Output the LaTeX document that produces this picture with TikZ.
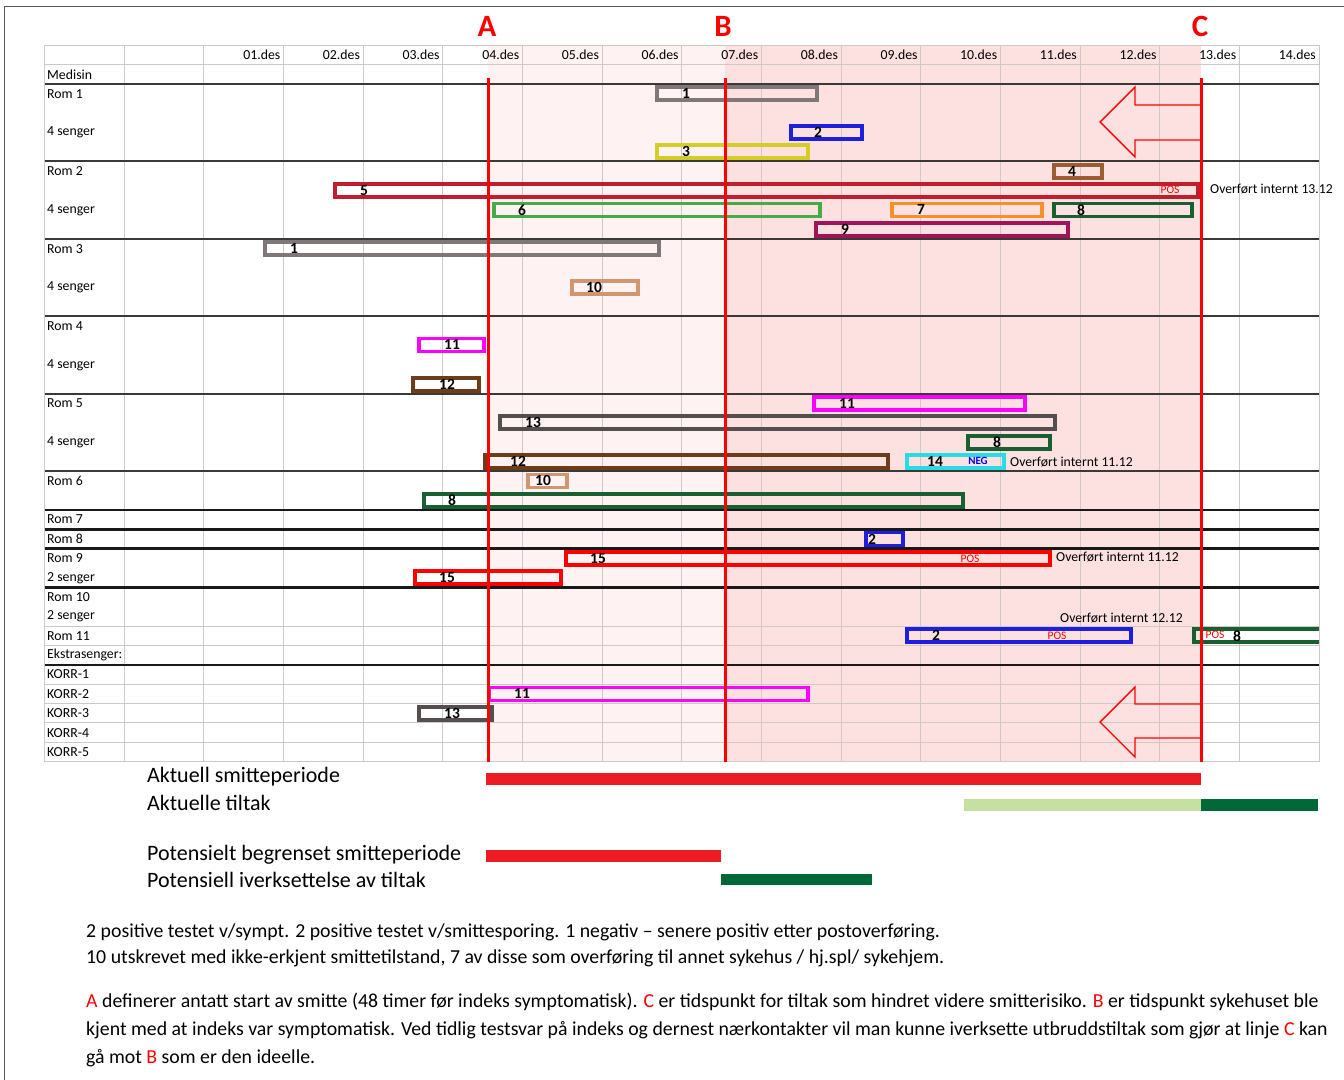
\documentclass[tikz,border=0pt]{standalone}
\usepackage{fontspec}
\setmainfont{Carlito}
\definecolor{cgray}{RGB}{128,120,120}
\definecolor{cblue}{RGB}{30,30,220}
\definecolor{cyel}{RGB}{212,205,40}
\definecolor{cbrown}{RGB}{155,92,50}
\definecolor{cdred}{RGB}{190,30,45}
\definecolor{cgreen}{RGB}{70,170,70}
\definecolor{corange}{RGB}{245,145,40}
\definecolor{cdkg}{RGB}{25,95,50}
\definecolor{cpurple}{RGB}{160,20,90}
\definecolor{ctan}{RGB}{210,150,110}
\definecolor{cmag}{RGB}{255,0,255}
\definecolor{cbrownb}{RGB}{110,60,25}
\definecolor{cdgray}{RGB}{85,78,78}
\definecolor{ccyan}{RGB}{40,220,230}
\definecolor{cred}{RGB}{255,0,0}
\definecolor{pinka}{RGB}{254,242,242}
\definecolor{pinkb}{RGB}{253,225,225}
\definecolor{gridc}{RGB}{208,200,200}
\definecolor{lred}{RGB}{237,28,36}
\definecolor{lgreen}{RGB}{197,224,160}
\definecolor{dgreen}{RGB}{0,104,55}
\tikzset{
  gridline/.style={draw=gridc, line width=1.1pt},
  sepline/.style={draw=gray!45!black, line width=2pt},
  sepblack/.style={draw=black!90, line width=2.4pt},
  rowlab/.style={anchor=west, inner sep=0pt, font=\fontsize{13.8}{13.8}\selectfont},
  datelab/.style={anchor=east, inner sep=0pt, font=\fontsize{13.8}{13.8}\selectfont},
  pbox/.style={draw=#1, line width=3.7pt, inner sep=0pt, minimum height=13pt, anchor=west},
  num/.style={inner sep=0pt, font=\fontsize{15.5}{15.5}\selectfont\bfseries},
  postag/.style={inner sep=0pt, text=red, font=\fontsize{11.5}{11.5}\selectfont},
  negtag/.style={inner sep=0pt, text=blue, font=\fontsize{11}{11}\selectfont\bfseries},
  notetext/.style={anchor=west, inner sep=0pt, font=\fontsize{13.7}{13.7}\selectfont},
  abcline/.style={draw=red, line width=3pt},
  abclab/.style={inner sep=0pt, text=red, font=\fontsize{31}{31}\selectfont\bfseries},
  arrowshape/.style={draw=red, line width=1.4pt, line join=miter},
  legtext/.style={anchor=west, inner sep=0pt, font=\fontsize{22}{22}\selectfont},
  bottext/.style={anchor=west, inner sep=0pt, font=\fontsize{19.8}{19.8}\selectfont},
}
\newcommand\pbar[7]{%
  \node[pbox=#2, minimum width={(#4-#3)*1pt}] (#1) at (#3,#5) {};
  \node[num] (#1n) at (#6,#5) {#7};}
\begin{document}
\begin{tikzpicture}[x=1pt,y=-1pt]
\useasboundingbox (0,0) rectangle (1344,1079);
\fill[white] (0,0) rectangle (1344,1079);
% frame
\draw[gray!70!black, line width=1pt] (4,1090) -- (4,6) -- (1350,6);
% pink shading
\fill[pinka] (488,45.3) rectangle (725,761.7);
\fill[pinkb] (725,45.3) rectangle (1201,761.7);
% vertical grid
\foreach \k in {0,...,16} {
  \draw[gridline] ({44.5+79.66*\k},45.3) -- ({44.5+79.66*\k},761.7);
}
% thin horizontal lines
\foreach \i in {0,1,30,31,33,34,35,36,37} {
  \draw[gridline] (44.5,{45.3+19.36*\i}) -- (1319,{45.3+19.36*\i});
}
% separators
\foreach \i in {2,6,10,14,18,22} {
  \draw[sepline] (44.5,{45.3+19.36*\i}) -- (1319,{45.3+19.36*\i});
}
\foreach \i in {24,25,26,28,32} {
  \draw[sepblack] (44.5,{45.3+19.36*\i}) -- (1319,{45.3+19.36*\i});
}
% dates
\foreach \d [count=\n] in {01,02,03,04,05,06,07,08,09,10,11,12,13,14} {
  \node[datelab] (date\n) at ({44.5+79.66*(\n+2)-3},55) {\d.des};
}
% row labels
\node[rowlab] (lmed) at (47,74.4) {Medisin};
\node[rowlab] (lr1) at (47,93.7) {Rom 1};
\node[rowlab] (lr1s) at (47,132.4) {4 senger};
\node[rowlab] (lr2) at (47,171.2) {Rom 2};
\node[rowlab] (lr2s) at (47,209.9) {4 senger};
\node[rowlab] (lr3) at (47,248.6) {Rom 3};
\node[rowlab] (lr3s) at (47,287.3) {4 senger};
\node[rowlab] (lr4) at (47,326.0) {Rom 4};
\node[rowlab] (lr4s) at (47,364.8) {4 senger};
\node[rowlab] (lr5) at (47,403.5) {Rom 5};
\node[rowlab] (lr5s) at (47,442.2) {4 senger};
\node[rowlab] (lr6) at (47,480.9) {Rom 6};
\node[rowlab] (lr7) at (47,519.6) {Rom 7};
\node[rowlab] (lr8) at (47,539.0) {Rom 8};
\node[rowlab] (lr9) at (47,558.4) {Rom 9};
\node[rowlab] (lr9s) at (47,577.7) {2 senger};
\node[rowlab] (lr10) at (47,597.1) {Rom 10};
\node[rowlab] (lr10s) at (47,616.4) {2 senger};
\node[rowlab] (lr11) at (47,635.8) {Rom 11};
\node[rowlab] (lek) at (47,655.2) {Ekstrasenger:};
\node[rowlab] (lk1) at (47,674.5) {KORR-1};
\node[rowlab] (lk2) at (47,693.9) {KORR-2};
\node[rowlab] (lk3) at (47,713.2) {KORR-3};
\node[rowlab] (lk4) at (47,732.6) {KORR-4};
\node[rowlab] (lk5) at (47,752.0) {KORR-5};
% bars
\pbar{ra}{cgray}{655}{815}{93.7}{686}{1}
\pbar{rb}{cblue}{789}{860}{132.4}{818}{2}
\pbar{rc}{cyel}{655}{806}{151.8}{686}{3}
\pbar{rd}{cbrown}{1052}{1100}{171.2}{1072}{4}
\pbar{re}{cdred}{333}{1196}{190.5}{364}{5}
\pbar{rf}{cgreen}{492}{818}{209.9}{522}{6}
\pbar{rg}{corange}{890}{1040}{209.9}{921}{7}
\pbar{rh}{cdkg}{1052}{1190}{209.9}{1081}{8}
\pbar{ri}{cpurple}{814}{1066}{229.2}{845}{9}
\pbar{rj}{cgray}{263}{657}{248.6}{294}{1}
\pbar{rk}{ctan}{570}{636}{287.8}{594}{10}
\pbar{rl}{cmag}{417}{482}{344.9}{452}{11}
\pbar{rm}{cbrownb}{411}{477}{384.4}{447}{12}
\pbar{rn}{cmag}{812}{1023}{403.5}{847}{11}
\pbar{ro}{cdgray}{498}{1053}{422.8}{533}{13}
\pbar{rp}{cdkg}{966}{1048}{442.2}{997}{8}
\pbar{rq}{cbrownb}{483}{886}{461.6}{518}{12}
\pbar{rr}{ccyan}{905}{1002}{461.6}{935}{14}
\pbar{rs}{ctan}{526}{565}{480.9}{543}{10}
\pbar{rt}{cdkg}{422}{961}{500.3}{452}{8}
\pbar{ru}{cblue}{864}{901}{539.0}{872}{2}
\pbar{rv}{cred}{564}{1048}{558.4}{598}{15}
\pbar{rw}{cred}{413}{559}{577.7}{447}{15}
\pbar{rx}{cblue}{905}{1129}{635.8}{936}{2}
\pbar{ry}{cmag}{487}{806}{693.9}{522}{11}
\pbar{rz}{cdgray}{417}{490}{713.2}{452}{13}
% open-ended bar 8 in Rom 11
\draw[cdkg, line width=3.7pt] (1319,629.3) -- (1193.8,629.3) -- (1193.8,642.3) -- (1319,642.3);
\node[num] (r11n) at (1237,635.8) {8};
% tags
\node[postag] (pos1) at (1170,190) {POS};
\node[postag] (pos2) at (970,559) {POS};
\node[postag] (pos3) at (1057,636) {POS};
\node[postag] (pos4) at (1215,635) {POS};
\node[negtag] (neg1) at (978,461) {NEG};
\node[notetext] (ov1) at (1210,189.5) {Overført internt 13.12};
\node[notetext] (ov2) at (1010,462) {Overført internt 11.12};
\node[notetext] (ov3) at (1056,557.5) {Overført internt 11.12};
\node[notetext] (ov4) at (1060,618) {Overført internt 12.12};
% A B C lines
\coordinate (atop) at (488,78);
\coordinate (abot) at (488,762);
\coordinate (btop) at (725,78);
\coordinate (bbot) at (725,762);
\coordinate (ctop) at (1201,78);
\coordinate (cbot) at (1201,762);
\draw[abcline] (atop) -- (abot);
\draw[abcline] (btop) -- (bbot);
\draw[abcline] (ctop) -- (cbot);
\node[abclab] (labA) at (487,26) {A};
\node[abclab] (labB) at (723,26) {B};
\node[abclab] (labC) at (1200,26) {C};
% arrows
\draw[arrowshape] (1201,105) -- (1135,105) -- (1135,87) -- (1100,122) -- (1135,157) -- (1135,140) -- (1201,140);
\draw[arrowshape] (1201,704) -- (1135,704) -- (1135,687) -- (1100,722) -- (1135,757) -- (1135,738) -- (1201,738);
% legend
\node[legtext] (lg1) at (147,777) {Aktuell smitteperiode};
\node[legtext] (lg2) at (147,803) {Aktuelle tiltak};
\node[legtext] (lg3) at (147,855) {Potensielt begrenset smitteperiode};
\node[legtext] (lg4) at (147,880) {Potensiell iverksettelse av tiltak};
\fill[lred] (486,773) rectangle (1201,785);
\fill[lgreen] (964,799) rectangle (1201,811);
\fill[dgreen] (1201,799) rectangle (1318,811);
\fill[lred] (486,850) rectangle (721,862);
\fill[dgreen] (721,874) rectangle (872,885);
% bottom text
\node[bottext] (t1) at (86,932) {2 positive testet v/sympt. 2 positive testet v/smittesporing. 1 negativ – senere positiv etter postoverføring.};
\node[bottext] (t2) at (86,958) {10 utskrevet med ikke-erkjent smittetilstand, 7 av disse som overføring til annet sykehus / hj.spl/ sykehjem.};
\node[bottext] (t3) at (86,1002) {\textcolor{red}{A} definerer antatt start av smitte (48 timer før indeks symptomatisk). \textcolor{red}{C} er tidspunkt for tiltak som hindret videre smitterisiko. \textcolor{red}{B} er tidspunkt sykehuset ble};
\node[bottext] (t4) at (86,1030) {kjent med at indeks var symptomatisk. Ved tidlig testsvar på indeks og dernest nærkontakter vil man kunne iverksette utbruddstiltak som gjør at linje \textcolor{red}{C} kan};
\node[bottext] (t5) at (86,1058) {gå mot \textcolor{red}{B} som er den ideelle.};
\end{tikzpicture}
\end{document}
